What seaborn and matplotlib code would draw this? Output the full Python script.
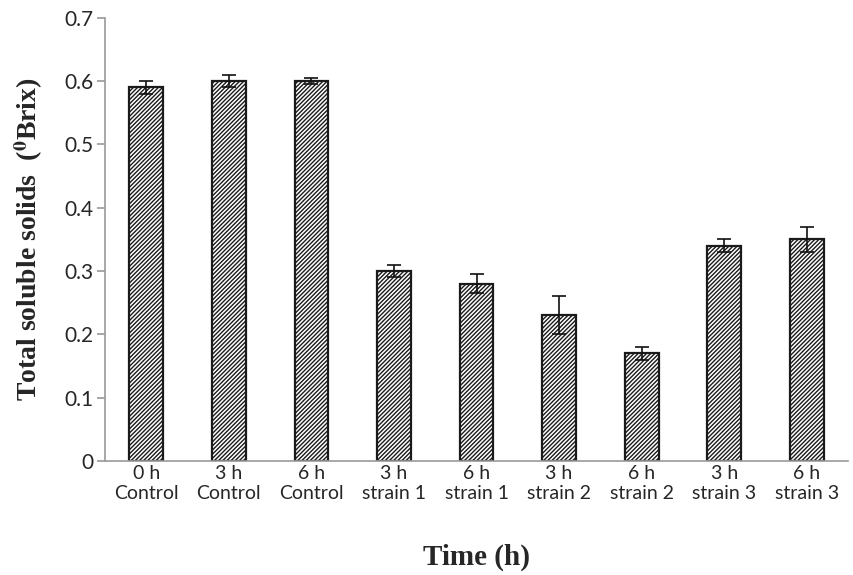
import numpy as np
import pandas as pd
import matplotlib
matplotlib.use('Agg')
import matplotlib.pyplot as plt
import seaborn as sns

times = ['0 h', '3 h', '6 h', '3 h', '6 h', '3 h', '6 h', '3 h', '6 h']
groups = ['Control', 'Control', 'Control', 'strain 1', 'strain 1',
          'strain 2', 'strain 2', 'strain 3', 'strain 3']
tss = [0.59, 0.60, 0.60, 0.30, 0.28, 0.23, 0.17, 0.34, 0.35]
tss_err = [0.01, 0.01, 0.005, 0.01, 0.015, 0.03, 0.01, 0.01, 0.02]

labels = [f'{t}\n{g}' for t, g in zip(times, groups)]
df = pd.DataFrame({'label': labels, 'tss': tss})

sns.set_style('white')
plt.rcParams['hatch.color'] = '#1a1a1a'
plt.rcParams['hatch.linewidth'] = 1.0
plt.rcParams['mathtext.fontset'] = 'stix'

fig = plt.figure(figsize=(8.54, 5.75), dpi=100)
ax = fig.add_axes([0.123, 0.198, 0.870, 0.771])

sns.barplot(data=df, x='label', y='tss', color='white', width=0.41,
            edgecolor='#1a1a1a', linewidth=1.6, ax=ax)
for p in ax.patches:
    p.set_hatch('////////')
    p.set_facecolor('white')

ax.errorbar(np.arange(len(tss)), tss, yerr=tss_err, fmt='none',
            ecolor='#111111', elinewidth=1.2, capsize=5, capthick=1.2)

ax.set_xlim(-0.5, len(tss) - 0.5)
ax.set_ylim(0, 0.7)
ax.set_yticks(np.arange(0, 0.71, 0.1))
ax.set_yticklabels(['0'] + [f'{v:.1f}' for v in np.arange(0.1, 0.71, 0.1)])

sans = ['Lato', 'DejaVu Sans']
for t in ax.get_yticklabels():
    t.set_family(sans)
    t.set_fontsize(15)
for t in ax.get_xticklabels():
    t.set_family(sans)
    t.set_fontsize(14)
    t.set_linespacing(1.2)

# tick marks sit between the categories on the x axis
ax.set_xticks(np.arange(-0.5, len(tss)), minor=True)
ax.tick_params(axis='x', which='major', length=0, pad=3)
ax.tick_params(axis='x', which='minor', length=7, color='#9a9a9a', width=1.2, direction='out')
ax.tick_params(axis='y', length=6, color='#9a9a9a', width=1.2, direction='out', left=True, pad=2)

sns.despine(ax=ax)
for s in ['left', 'bottom']:
    ax.spines[s].set_color('#9a9a9a')
    ax.spines[s].set_linewidth(1.2)

ax.set_xlabel('Time (h)', family='Liberation Serif', fontweight='bold',
              fontsize=21, labelpad=30)
ax.set_ylabel(r'Total soluble solids  ($^{\mathbf{0}}$Brix)', family='Liberation Serif',
              fontweight='bold', fontsize=20, labelpad=14)

fig.savefig('out.png', dpi=100)
